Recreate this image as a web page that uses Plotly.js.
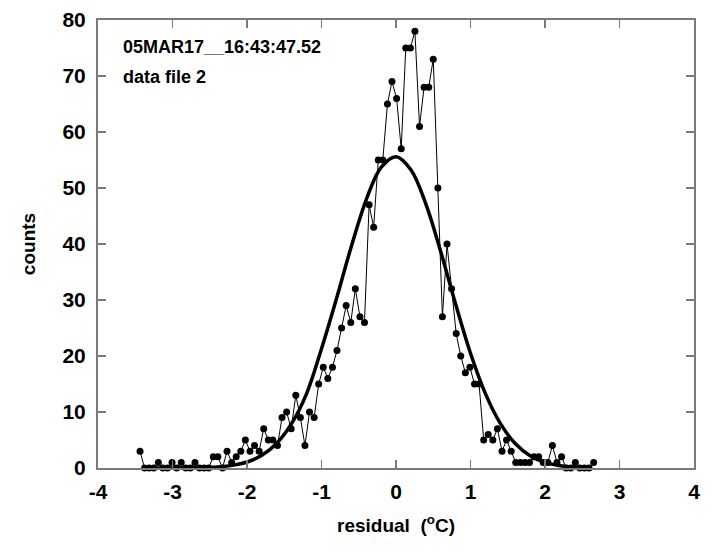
<!DOCTYPE html>
<html>
<head>
<meta charset="utf-8">
<script src="https://cdn.plot.ly/plotly-3.0.1.min.js"></script>
<style>html,body{margin:0;padding:0;background:#fff;}#chart{width:718px;height:554px;}</style>
</head>
<body>
<div id="chart"></div>
<script>
// residual bin centres (degC)
const residual = [-3.436,-3.375,-3.313,-3.252,-3.190,-3.129,-3.067,-3.006,-2.944,-2.883,
  -2.821,-2.760,-2.698,-2.637,-2.575,-2.514,-2.452,-2.391,-2.329,-2.268,
  -2.206,-2.145,-2.083,-2.022,-1.960,-1.899,-1.837,-1.776,-1.714,-1.653,
  -1.591,-1.530,-1.468,-1.407,-1.345,-1.284,-1.222,-1.161,-1.099,-1.038,
  -0.976,-0.915,-0.853,-0.792,-0.730,-0.669,-0.607,-0.546,-0.484,-0.423,
  -0.361,-0.300,-0.238,-0.177,-0.115,-0.054,0.008,0.070,0.131,0.193,
  0.254,0.316,0.377,0.439,0.500,0.562,0.623,0.685,0.746,0.808,
  0.869,0.931,0.992,1.054,1.115,1.177,1.238,1.300,1.361,1.423,
  1.484,1.546,1.607,1.669,1.730,1.792,1.853,1.915,1.976,2.038,
  2.099,2.161,2.222,2.284,2.345,2.407,2.468,2.530,2.591,2.653];
// histogram counts
const counts = [3,0,0,0,1,0,0,1,0,1,
  0,0,1,0,0,0,2,2,0,3,
  1,2,3,5,3,4,3,7,5,5,
  4,9,10,7,13,9,4,10,9,15,
  18,16,18,21,25,29,26,32,27,26,
  47,43,55,55,65,69,66,57,75,75,
  78,61,68,68,73,50,27,40,32,24,
  20,17,18,15,15,5,6,5,7,3,
  5,3,1,1,1,1,2,2,1,1,
  4,1,2,0,0,1,0,0,0,1];
// Gaussian fit curve
const fitX = [-3.4,-3.0,-2.6,-2.4,-2.2,-2.0,-1.8,-1.6,-1.4,-1.2,-1.0,-0.8,-0.6,-0.4,-0.2,0.0,
  0.2,0.4,0.6,0.8,1.0,1.2,1.4,1.6,1.8,2.0,2.2,2.4,2.6];
const fitY = [0.0,0.01,0.07,0.19,0.47,1.07,2.26,4.41,7.96,13.28,21.3,30.2,39.55,47.9,53.67,55.6,
  53.25,47.17,38.64,29.27,20.5,13.28,7.96,4.37,2.18,0.99,0.41,0.16,0.06];
const xTicks = [-4,-3,-2,-1,0,1,2,3,4];
const yTicks = [0,10,20,30,40,50,60,70,80];
const stamp = "05MAR17__16:43:47.52";
const fileLabel = "data file 2";

const FONT = "Liberation Sans, Arial, Helvetica, sans-serif";

const traces = [
  {x: residual, y: counts, type: 'scatter', mode: 'lines+markers',
   line: {color: '#000', width: 1}, marker: {color: '#000', size: 7},
   cliponaxis: false, showlegend: false, hoverinfo: 'x+y'},
  {x: fitX, y: fitY, type: 'scatter', mode: 'lines',
   line: {color: '#000', width: 3.5, shape: 'spline'},
   showlegend: false, hoverinfo: 'x+y'}
];

const axisCommon = {
  showgrid: false, zeroline: false, showline: true, mirror: 'ticks',
  linecolor: '#7a7a7a', linewidth: 2, ticks: 'inside', ticklen: 8, tickwidth: 1.5,
  tickcolor: '#7a7a7a',
  tickfont: {family: FONT, size: 21, color: '#000', weight: 'bold'}
};

const layout = {
  width: 718, height: 554,
  margin: {l: 98, r: 24, t: 20, b: 86},
  paper_bgcolor: '#fff', plot_bgcolor: '#fff',
  xaxis: Object.assign({}, axisCommon, {
    range: [-4, 4], tickvals: xTicks, ticktext: xTicks.map(String), ticklabelstandoff: 4,
    title: {text: 'residual  (<sup>o</sup>C)', font: {family: FONT, size: 19, color: '#000', weight: 'bold'}, standoff: 16}
  }),
  yaxis: Object.assign({}, axisCommon, {
    range: [0, 80], tickvals: yTicks, ticktext: yTicks.map(String), ticklabelstandoff: 6,
    title: {text: 'counts', font: {family: FONT, size: 19, color: '#000', weight: 'bold'}, standoff: 22}
  }),
  annotations: [
    {text: stamp, xref: 'paper', yref: 'paper', x: 0.038, y: 0.94, xanchor: 'left', yanchor: 'middle',
     showarrow: false, font: {family: FONT, size: 18, color: '#000', weight: 'bold'}},
    {text: fileLabel, xref: 'paper', yref: 'paper', x: 0.038, y: 0.873, xanchor: 'left', yanchor: 'middle',
     showarrow: false, font: {family: FONT, size: 18, color: '#000', weight: 'bold'}}
  ]
};

Plotly.newPlot('chart', traces, layout, {displayModeBar: false, staticPlot: true});
</script>
</body>
</html>
